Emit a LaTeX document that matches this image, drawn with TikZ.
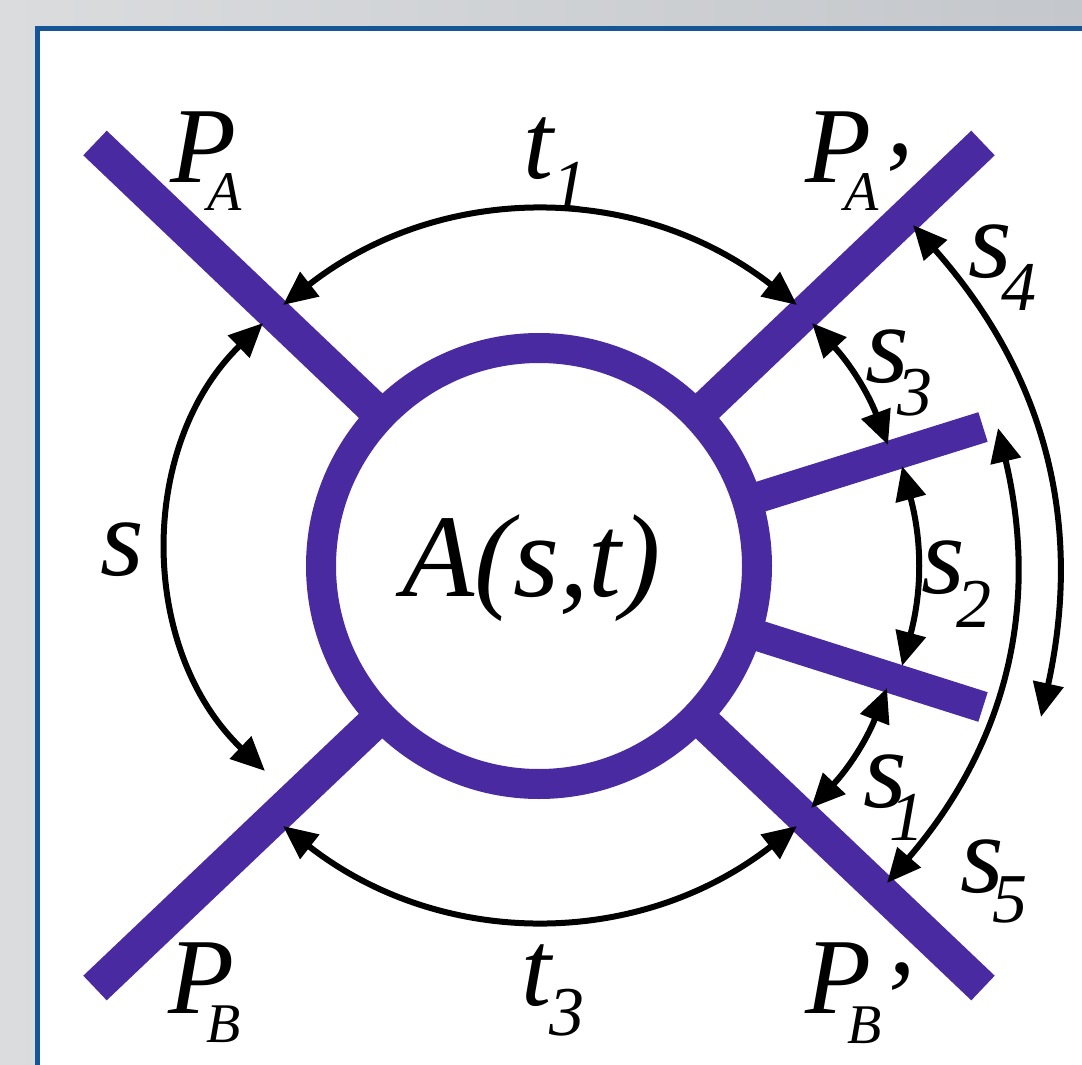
\documentclass[tikz,border=0pt]{standalone}
\usepackage{fontspec}
\setmainfont{Liberation Serif}
\usetikzlibrary{arrows.meta,calc}
\definecolor{legpurple}{RGB}{74,42,160}
\definecolor{panelblue}{RGB}{22,86,150}
\definecolor{bgL}{RGB}{218,220,222}
\definecolor{bgR}{RGB}{196,199,203}
\newcommand{\dn}[3]{\raisebox{-#1}{\fontsize{#2}{#2}\selectfont #3}}
\begin{document}
\begin{tikzpicture}[x=1pt,y=-1pt,
  leg/.style={draw=legpurple,line width=34pt},
  sideleg/.style={draw=legpurple,line width=31pt},
  dim/.style={draw=black,line width=6pt,{Triangle[length=34pt,width=30pt]}-{Triangle[length=34pt,width=30pt]}},
  lab/.style={anchor=base west,inner sep=0pt,outer sep=0pt,text=black},
  big/.style={lab,font=\fontsize{108}{110}\selectfont\itshape},
  mid/.style={lab,font=\fontsize{112}{114}\selectfont\itshape}]

\useasboundingbox (0,0) rectangle (1082,1065);
\clip (0,0) rectangle (1082,1065);
\shade[left color=bgL,right color=bgR] (0,0) rectangle (1082,1065);
\draw[panelblue,line width=5pt,fill=white] (37.5,28.5) rectangle (1200,1200);

% geometry
\coordinate (C) at (539,566);
\coordinate (ePA) at (95,143);
\coordinate (ePAp) at (983,143);
\coordinate (ePB) at (95,988);
\coordinate (ePBp) at (983,988);
\coordinate (eU) at (983,427);
\coordinate (eL) at (983,707);

\draw[leg] (ePA) -- ($(C)!218pt!(ePA)$);
\draw[leg] (ePAp) -- ($(C)!218pt!(ePAp)$);
\draw[leg] (ePB) -- ($(C)!218pt!(ePB)$);
\draw[leg] (ePBp) -- ($(C)!218pt!(ePBp)$);
\draw[sideleg] (eU) -- ($(C)!218pt!(eU)$);
\draw[sideleg] (eL) -- ($(C)!218pt!(eL)$);
\draw[draw=legpurple,line width=30pt] (C) circle[radius=218];

% arrow tips
\coordinate (t1L) at (283,305);
\coordinate (t1R) at (797,305);
\coordinate (t3L) at (283,826);
\coordinate (t3R) at (797,826);
\coordinate (sT) at (263,323);
\coordinate (sB) at (265,771);
\coordinate (s3T) at (812,323);
\coordinate (s3B) at (888,445);
\coordinate (s2T) at (902,466);
\coordinate (s2B) at (902,666);
\coordinate (s1T) at (887,688);
\coordinate (s1B) at (811,808);
\coordinate (s4T) at (913,225);
\coordinate (s4B) at (1041,717);
\coordinate (s5T) at (998,428);
\coordinate (s5B) at (887,883);

\draw[dim] (t1L) to[bend left=38] (t1R);
\draw[dim] (t3L) to[bend right=38] (t3R);
\draw[dim] (sT) to[bend right=46] (sB);
\draw[dim] (s3T) to[bend left=11] (s3B);
\draw[dim] (s2T) to[bend left=15] (s2B);
\draw[dim] (s1T) to[bend left=11] (s1B);
\draw[dim] (s4T) to[bend left=27] (s4B);
\draw[dim] (s5T) to[bend left=27] (s5B);

% labels
\node[big] (PA) at (170,182) {P\kern-28pt\dn{28pt}{56}{A}};
\node[big] (PAp) at (805,182) {P\kern-26pt\dn{28pt}{56}{A}\kern-5pt\dn{33pt}{108}{’}};
\node[big] (PB) at (168,1013) {P\kern-27pt\dn{29pt}{56}{B}};
\node[big] (PBp) at (805,1013) {P\kern-23pt\dn{30pt}{56}{B}\kern-6pt\dn{21pt}{108}{’}};
\node[big] (t1) at (523,178) {t\kern-1pt\dn{30pt}{70}{1}};
\node[big] (t3) at (521,1005) {t\kern-2pt\dn{30pt}{70}{3}};
\node[mid] (sl) at (100,575) {s};
\node[mid] (s1) at (863,807) {s\kern-17pt\dn{33pt}{70}{1}};
\node[mid] (s2) at (921,593) {s\kern-8pt\dn{34pt}{70}{2}};
\node[mid] (s3) at (865,382) {s\kern-11pt\dn{33pt}{70}{3}};
\node[mid] (s4) at (968,277) {s\kern-10pt\dn{33pt}{70}{4}};
\node[mid] (s5) at (960,892) {s\kern-11pt\dn{30pt}{70}{5}};
\node[lab,font=\fontsize{118}{120}\selectfont\itshape] (Amp) at (402,596) {A(s,t)};
\end{tikzpicture}
\end{document}
